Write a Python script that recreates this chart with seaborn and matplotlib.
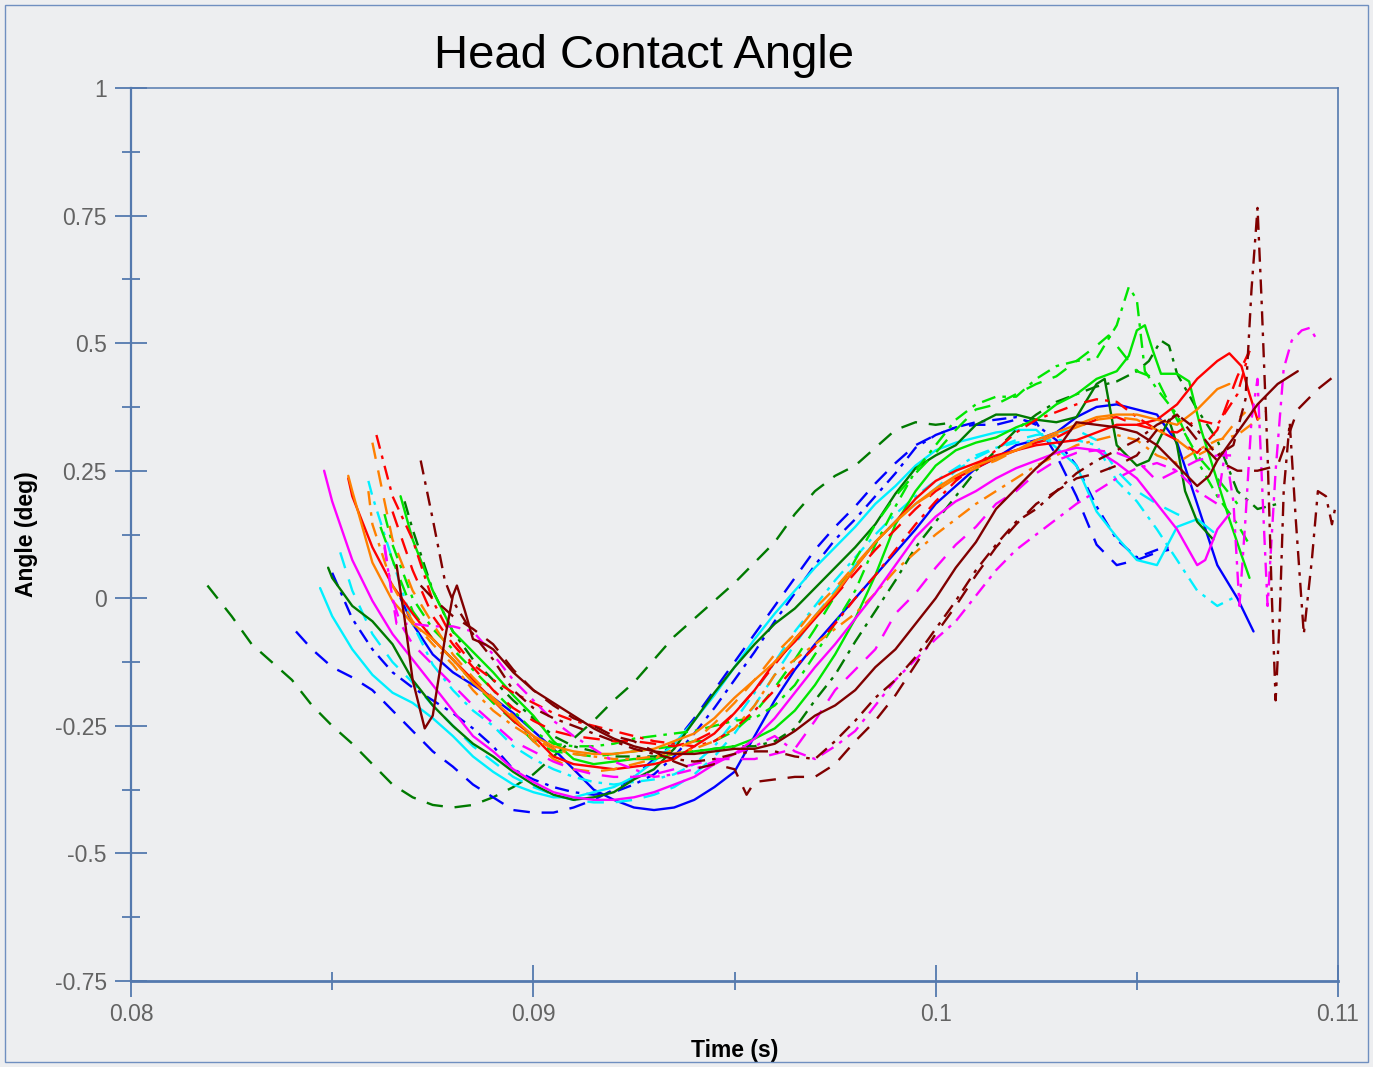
import numpy as np
import seaborn as sns
import matplotlib.pyplot as plt
from matplotlib.ticker import FixedLocator, FuncFormatter
from matplotlib.patches import Rectangle

# time in ms, angle in deg
dkgreen_dashed_t = [81.9, 82.5, 83.0, 83.5, 84.0, 84.5, 85.0, 85.5, 86.0, 86.5, 87.0, 87.5, 88.0, 88.5, 89.0, 89.5, 90.0, 90.5, 91.0, 91.5, 92.0, 92.5, 93.0, 93.5, 94.0, 94.5, 95.0, 95.5, 96.0, 96.5, 97.0, 97.5, 98.0, 98.5, 99.0, 99.5, 100.0, 100.5]
dkgreen_dashed_a = [0.025, -0.035, -0.09, -0.125, -0.16, -0.21, -0.25, -0.285, -0.325, -0.365, -0.39, -0.405, -0.41, -0.405, -0.39, -0.37, -0.345, -0.31, -0.275, -0.24, -0.20, -0.165, -0.12, -0.075, -0.04, -0.005, 0.03, 0.07, 0.11, 0.165, 0.21, 0.24, 0.26, 0.295, 0.33, 0.345, 0.34, 0.345]

blue_dashed_t = [84.1, 84.5, 85.0, 85.5, 86.0, 86.5, 87.0, 87.5, 88.0, 88.5, 89.0, 89.5, 90.0, 90.5, 91.0, 91.5, 92.0, 92.5, 93.0, 93.5, 94.0, 94.5, 95.0, 95.5, 96.0, 96.5, 97.0, 97.5, 98.0, 98.5, 99.0, 99.5, 100.0, 100.5, 101.0, 101.5, 102.0, 102.5, 103.0, 103.5, 104.0, 104.5, 105.0, 105.5, 105.8]
blue_dashed_a = [-0.065, -0.10, -0.135, -0.155, -0.18, -0.22, -0.26, -0.30, -0.33, -0.365, -0.39, -0.415, -0.42, -0.42, -0.41, -0.395, -0.375, -0.35, -0.315, -0.285, -0.235, -0.18, -0.125, -0.07, -0.015, 0.04, 0.095, 0.14, 0.18, 0.225, 0.265, 0.30, 0.32, 0.335, 0.34, 0.34, 0.35, 0.345, 0.28, 0.20, 0.105, 0.065, 0.075, 0.09, 0.095]

blue_dashdot_t = [85.0, 85.5, 86.0, 86.5, 87.0, 87.5, 88.0, 88.5, 89.0, 89.5, 90.0, 90.5, 91.0, 91.5, 92.0, 92.5, 93.0, 93.5, 94.0, 94.5, 95.0, 95.5, 96.0, 96.5, 97.0, 97.5, 98.0, 98.5, 99.0, 99.5, 100.0, 100.5, 101.0, 101.5, 102.0, 102.5, 103.0, 103.5, 104.0, 104.5, 105.0, 105.5, 105.8]
blue_dashdot_a = [0.05, -0.04, -0.10, -0.145, -0.175, -0.20, -0.225, -0.255, -0.29, -0.335, -0.355, -0.37, -0.38, -0.385, -0.38, -0.365, -0.345, -0.31, -0.265, -0.215, -0.16, -0.105, -0.045, 0.01, 0.065, 0.115, 0.155, 0.20, 0.245, 0.295, 0.32, 0.335, 0.345, 0.35, 0.355, 0.34, 0.31, 0.26, 0.18, 0.115, 0.08, 0.095, 0.10]

blue_solid_t = [86.7, 87.0, 87.5, 88.0, 88.5, 89.0, 89.5, 90.0, 90.5, 91.0, 91.5, 92.0, 92.5, 93.0, 93.5, 94.0, 94.5, 95.0, 95.5, 96.0, 96.5, 97.0, 97.5, 98.0, 98.5, 99.0, 99.5, 100.0, 100.5, 101.0, 101.5, 102.0, 102.5, 103.0, 103.5, 104.0, 104.5, 105.0, 105.5, 106.0, 106.5, 107.0, 107.5, 107.9]
blue_solid_a = [0.00, -0.05, -0.11, -0.145, -0.17, -0.195, -0.225, -0.26, -0.295, -0.335, -0.375, -0.395, -0.41, -0.415, -0.41, -0.395, -0.37, -0.34, -0.27, -0.20, -0.14, -0.09, -0.045, 0.00, 0.045, 0.09, 0.135, 0.185, 0.22, 0.255, 0.275, 0.30, 0.31, 0.325, 0.355, 0.375, 0.38, 0.37, 0.36, 0.305, 0.185, 0.065, 0.00, -0.065]

cyan_solid_t = [84.7, 85.0, 85.5, 86.0, 86.5, 87.0, 87.5, 88.0, 88.5, 89.0, 89.5, 90.0, 90.5, 91.0, 91.5, 92.0, 92.5, 93.0, 93.5, 94.0, 94.5, 95.0, 95.5, 96.0, 96.5, 97.0, 97.5, 98.0, 98.5, 99.0, 99.5, 100.0, 100.5, 101.0, 101.5, 102.0, 102.5, 103.0, 103.5, 104.0, 104.5, 105.0, 105.5, 106.0, 106.5, 106.9]
cyan_solid_a = [0.02, -0.035, -0.10, -0.15, -0.185, -0.205, -0.235, -0.27, -0.31, -0.34, -0.365, -0.38, -0.39, -0.39, -0.38, -0.37, -0.35, -0.32, -0.285, -0.24, -0.19, -0.135, -0.08, -0.03, 0.015, 0.06, 0.10, 0.14, 0.185, 0.22, 0.26, 0.29, 0.305, 0.315, 0.325, 0.33, 0.33, 0.295, 0.26, 0.17, 0.12, 0.075, 0.065, 0.14, 0.155, 0.13]

cyan_dashed_t = [85.2, 85.5, 86.0, 86.5, 87.0, 87.5, 88.0, 88.5, 89.0, 89.5, 90.0, 90.5, 91.0, 91.5, 92.0, 92.5, 93.0, 93.5, 94.0, 94.5, 95.0, 95.5, 96.0, 96.5, 97.0, 97.5, 98.0, 98.5, 99.0, 99.5, 100.0, 100.5, 101.0, 101.5, 102.0, 102.5, 103.0, 103.5, 104.0, 104.5, 105.0, 105.5, 106.0, 106.3]
cyan_dashed_a = [0.09, 0.015, -0.07, -0.125, -0.165, -0.21, -0.25, -0.29, -0.32, -0.35, -0.37, -0.385, -0.395, -0.40, -0.40, -0.395, -0.385, -0.37, -0.345, -0.31, -0.265, -0.21, -0.15, -0.09, -0.035, 0.015, 0.065, 0.11, 0.15, 0.185, 0.215, 0.25, 0.275, 0.295, 0.31, 0.32, 0.325, 0.33, 0.31, 0.25, 0.21, 0.185, 0.165, 0.155]

cyan_dashdot_t = [85.9, 86.0, 86.5, 87.0, 87.5, 88.0, 88.5, 89.0, 89.5, 90.0, 90.5, 91.0, 91.5, 92.0, 92.5, 93.0, 93.5, 94.0, 94.5, 95.0, 95.5, 96.0, 96.5, 97.0, 97.5, 98.0, 98.5, 99.0, 99.5, 100.0, 100.5, 101.0, 101.5, 102.0, 102.5, 103.0, 103.5, 104.0, 104.5, 105.0, 105.5, 106.0, 106.5, 107.0, 107.5]
cyan_dashdot_a = [0.23, 0.20, 0.075, -0.05, -0.13, -0.18, -0.22, -0.25, -0.29, -0.315, -0.335, -0.35, -0.36, -0.365, -0.36, -0.355, -0.345, -0.325, -0.29, -0.24, -0.185, -0.125, -0.065, -0.015, 0.035, 0.08, 0.125, 0.165, 0.20, 0.23, 0.255, 0.28, 0.295, 0.305, 0.31, 0.31, 0.31, 0.30, 0.23, 0.19, 0.135, 0.075, 0.015, -0.015, 0.005]

dkgreen_solid_t = [84.9, 85.0, 85.5, 86.0, 86.5, 87.0, 87.5, 88.0, 88.5, 89.0, 89.5, 90.0, 90.5, 91.0, 91.5, 92.0, 92.5, 93.0, 93.5, 94.0, 94.5, 95.0, 95.5, 96.0, 96.5, 97.0, 97.5, 98.0, 98.5, 99.0, 99.5, 100.0, 100.5, 101.0, 101.5, 102.0, 102.5, 103.0, 103.5, 104.0, 104.2, 104.5, 105.0, 105.3, 105.8, 106.0, 106.2, 106.5, 106.9]
dkgreen_solid_a = [0.06, 0.04, -0.015, -0.045, -0.09, -0.16, -0.21, -0.25, -0.285, -0.31, -0.34, -0.365, -0.385, -0.395, -0.39, -0.38, -0.355, -0.335, -0.295, -0.24, -0.185, -0.135, -0.09, -0.05, -0.02, 0.02, 0.06, 0.10, 0.145, 0.205, 0.255, 0.28, 0.30, 0.34, 0.36, 0.36, 0.35, 0.345, 0.355, 0.42, 0.43, 0.30, 0.26, 0.27, 0.35, 0.30, 0.21, 0.15, 0.115]

dkgreen_dashdot_t = [86.8, 87.0, 87.5, 88.0, 88.5, 89.0, 89.5, 90.0, 90.5, 91.0, 91.5, 92.0, 92.5, 93.0, 93.5, 94.0, 94.5, 95.0, 95.5, 96.0, 96.5, 97.0, 97.5, 98.0, 98.5, 99.0, 99.5, 100.0, 100.5, 101.0, 101.5, 102.0, 102.5, 103.0, 103.5, 104.0, 104.5, 105.0, 105.3, 105.6, 105.8, 106.0, 106.5, 107.0, 107.5, 108.0, 108.5]
dkgreen_dashdot_a = [0.19, 0.135, 0.015, -0.065, -0.12, -0.16, -0.20, -0.235, -0.27, -0.29, -0.30, -0.31, -0.31, -0.31, -0.305, -0.30, -0.295, -0.29, -0.29, -0.28, -0.255, -0.20, -0.15, -0.085, -0.025, 0.035, 0.10, 0.15, 0.20, 0.25, 0.29, 0.33, 0.36, 0.385, 0.40, 0.415, 0.425, 0.445, 0.465, 0.505, 0.495, 0.44, 0.37, 0.31, 0.21, 0.175, 0.185]

lime_solid_t = [86.7, 87.0, 87.5, 88.0, 88.5, 89.0, 89.5, 90.0, 90.5, 91.0, 91.5, 92.0, 92.5, 93.0, 93.5, 94.0, 94.5, 95.0, 95.5, 96.0, 96.5, 97.0, 97.5, 98.0, 98.5, 99.0, 99.5, 100.0, 100.5, 101.0, 101.5, 102.0, 102.5, 103.0, 103.5, 104.0, 104.5, 104.8, 105.0, 105.2, 105.4, 105.6, 106.0, 106.3, 106.6, 107.0, 107.3, 107.6, 107.8]
lime_solid_a = [0.20, 0.115, 0.015, -0.065, -0.105, -0.145, -0.19, -0.23, -0.28, -0.315, -0.325, -0.32, -0.315, -0.315, -0.305, -0.30, -0.295, -0.29, -0.275, -0.255, -0.22, -0.17, -0.11, -0.04, 0.045, 0.145, 0.21, 0.26, 0.29, 0.305, 0.315, 0.335, 0.35, 0.38, 0.40, 0.43, 0.445, 0.475, 0.525, 0.535, 0.485, 0.44, 0.44, 0.425, 0.33, 0.23, 0.155, 0.085, 0.04]

lime_dashdot_t = [86.3, 86.5, 87.0, 87.5, 88.0, 88.5, 89.0, 89.5, 90.0, 90.5, 91.0, 91.5, 92.0, 92.5, 93.0, 93.5, 94.0, 94.5, 95.0, 95.5, 96.0, 96.5, 97.0, 97.5, 98.0, 98.5, 99.0, 99.5, 100.0, 100.5, 101.0, 101.5, 102.0, 102.5, 103.0, 103.5, 104.0, 104.5, 104.8, 105.0, 105.2, 105.5, 106.0, 106.5, 107.0, 107.5, 107.8]
lime_dashdot_a = [0.165, 0.105, 0.00, -0.06, -0.10, -0.14, -0.18, -0.22, -0.26, -0.285, -0.29, -0.29, -0.285, -0.275, -0.27, -0.265, -0.26, -0.25, -0.24, -0.235, -0.21, -0.17, -0.11, -0.05, 0.015, 0.105, 0.18, 0.25, 0.30, 0.35, 0.38, 0.395, 0.395, 0.43, 0.455, 0.465, 0.47, 0.535, 0.61, 0.585, 0.445, 0.41, 0.36, 0.27, 0.20, 0.145, 0.105]

lime_dashed_t = [86.2, 86.5, 87.0, 87.5, 88.0, 88.5, 89.0, 89.5, 90.0, 90.5, 91.0, 91.5, 92.0, 92.5, 93.0, 93.5, 94.0, 94.5, 95.0, 95.5, 96.0, 96.5, 97.0, 97.5, 98.0, 98.5, 99.0, 99.5, 100.0, 100.5, 101.0, 101.5, 102.0, 102.5, 103.0, 103.5, 104.0, 104.3, 104.6, 105.0, 105.5, 106.0, 106.5, 107.0, 107.5]
lime_dashed_a = [0.14, 0.075, -0.025, -0.08, -0.12, -0.165, -0.205, -0.24, -0.28, -0.30, -0.305, -0.31, -0.305, -0.30, -0.295, -0.29, -0.28, -0.28, -0.26, -0.225, -0.175, -0.12, -0.06, 0.005, 0.075, 0.145, 0.20, 0.245, 0.285, 0.33, 0.37, 0.38, 0.40, 0.42, 0.435, 0.465, 0.495, 0.515, 0.485, 0.445, 0.43, 0.35, 0.28, 0.235, 0.185]

red_solid_t = [85.4, 85.5, 86.0, 86.5, 87.0, 87.5, 88.0, 88.5, 89.0, 89.5, 90.0, 90.5, 91.0, 91.5, 92.0, 92.5, 93.0, 93.5, 94.0, 94.5, 95.0, 95.5, 96.0, 96.5, 97.0, 97.5, 98.0, 98.5, 99.0, 99.5, 100.0, 100.5, 101.0, 101.5, 102.0, 102.5, 103.0, 103.5, 104.0, 104.5, 105.0, 105.5, 106.0, 106.5, 107.0, 107.3, 107.6, 107.8, 108.0]
red_solid_a = [0.235, 0.20, 0.10, 0.025, -0.03, -0.08, -0.12, -0.16, -0.20, -0.24, -0.27, -0.31, -0.325, -0.33, -0.335, -0.33, -0.325, -0.315, -0.29, -0.265, -0.225, -0.18, -0.125, -0.085, -0.04, 0.005, 0.06, 0.11, 0.15, 0.195, 0.23, 0.25, 0.265, 0.28, 0.29, 0.30, 0.305, 0.31, 0.325, 0.34, 0.34, 0.35, 0.38, 0.43, 0.465, 0.48, 0.455, 0.40, 0.35]

red_dashed_t = [86.5, 87.0, 87.5, 88.0, 88.5, 89.0, 89.5, 90.0, 90.5, 91.0, 91.5, 92.0, 92.5, 93.0, 93.5, 94.0, 94.5, 95.0, 95.5, 96.0, 96.5, 97.0, 97.5, 98.0, 98.5, 99.0, 99.5, 100.0, 100.5, 101.0, 101.5, 102.0, 102.5, 103.0, 103.5, 104.0, 104.5, 105.0, 105.5, 106.0, 106.5, 107.0, 107.5, 107.8]
red_dashed_a = [0.17, 0.055, -0.035, -0.09, -0.135, -0.18, -0.215, -0.24, -0.26, -0.27, -0.275, -0.28, -0.28, -0.285, -0.29, -0.28, -0.26, -0.225, -0.18, -0.13, -0.08, -0.035, 0.005, 0.05, 0.095, 0.135, 0.175, 0.21, 0.235, 0.255, 0.275, 0.29, 0.305, 0.315, 0.335, 0.35, 0.355, 0.34, 0.33, 0.31, 0.285, 0.33, 0.435, 0.485]

red_dashdot_t = [86.1, 86.5, 87.0, 87.5, 88.0, 88.5, 89.0, 89.5, 90.0, 90.5, 91.0, 91.5, 92.0, 92.5, 93.0, 93.5, 94.0, 94.5, 95.0, 95.5, 96.0, 96.5, 97.0, 97.5, 98.0, 98.5, 99.0, 99.5, 100.0, 100.5, 101.0, 101.5, 102.0, 102.5, 103.0, 103.5, 104.0, 104.5, 105.0, 105.5, 106.0, 106.5, 107.0, 107.5, 107.8]
red_dashdot_a = [0.32, 0.20, 0.115, -0.005, -0.08, -0.13, -0.16, -0.185, -0.205, -0.225, -0.24, -0.25, -0.26, -0.27, -0.28, -0.285, -0.29, -0.28, -0.255, -0.22, -0.18, -0.135, -0.095, -0.05, 0.00, 0.045, 0.095, 0.145, 0.19, 0.23, 0.26, 0.29, 0.325, 0.35, 0.365, 0.38, 0.39, 0.385, 0.355, 0.33, 0.325, 0.35, 0.34, 0.40, 0.485]

orange_solid_t = [85.4, 85.5, 86.0, 86.5, 87.0, 87.5, 88.0, 88.5, 89.0, 89.5, 90.0, 90.5, 91.0, 91.5, 92.0, 92.5, 93.0, 93.5, 94.0, 94.5, 95.0, 95.5, 96.0, 96.5, 97.0, 97.5, 98.0, 98.5, 99.0, 99.5, 100.0, 100.5, 101.0, 101.5, 102.0, 102.5, 103.0, 103.5, 104.0, 104.5, 105.0, 105.5, 106.0, 106.5, 107.0, 107.3]
orange_solid_a = [0.24, 0.21, 0.07, -0.005, -0.05, -0.08, -0.12, -0.165, -0.20, -0.235, -0.27, -0.29, -0.30, -0.305, -0.305, -0.30, -0.295, -0.28, -0.265, -0.235, -0.195, -0.16, -0.125, -0.08, -0.035, 0.01, 0.06, 0.11, 0.15, 0.185, 0.215, 0.24, 0.26, 0.275, 0.29, 0.31, 0.325, 0.34, 0.355, 0.36, 0.36, 0.35, 0.34, 0.37, 0.41, 0.42]

orange_dashed_t = [86.0, 86.3, 86.5, 87.0, 87.5, 88.0, 88.5, 89.0, 89.5, 90.0, 90.5, 91.0, 91.5, 92.0, 92.5, 93.0, 93.5, 94.0, 94.5, 95.0, 95.5, 96.0, 96.5, 97.0, 97.5, 98.0, 98.5, 99.0, 99.5, 100.0, 100.5, 101.0, 101.5, 102.0, 102.5, 103.0, 103.5, 104.0, 104.5, 105.0, 105.5, 106.0, 106.5, 107.0, 107.5, 107.7]
orange_dashed_a = [0.305, 0.19, 0.115, 0.015, -0.05, -0.11, -0.155, -0.195, -0.23, -0.28, -0.315, -0.335, -0.34, -0.335, -0.325, -0.315, -0.295, -0.28, -0.245, -0.205, -0.16, -0.11, -0.07, -0.02, 0.02, 0.065, 0.11, 0.15, 0.185, 0.21, 0.235, 0.255, 0.27, 0.29, 0.305, 0.32, 0.335, 0.35, 0.355, 0.35, 0.33, 0.31, 0.28, 0.30, 0.35, 0.365]

orange_dashdot_t = [85.9, 86.0, 86.5, 87.0, 87.5, 88.0, 88.5, 89.0, 89.5, 90.0, 90.5, 91.0, 91.5, 92.0, 92.5, 93.0, 93.5, 94.0, 94.5, 95.0, 95.5, 96.0, 96.5, 97.0, 97.5, 98.0, 98.5, 99.0, 99.5, 100.0, 100.5, 101.0, 101.5, 102.0, 102.5, 103.0, 103.5, 104.0, 104.5, 105.0, 105.5, 106.0, 106.5, 107.0, 107.5, 108.0, 108.2]
orange_dashdot_a = [0.21, 0.145, 0.025, -0.045, -0.09, -0.13, -0.18, -0.22, -0.25, -0.275, -0.295, -0.305, -0.31, -0.315, -0.315, -0.31, -0.305, -0.295, -0.28, -0.255, -0.21, -0.15, -0.12, -0.09, -0.06, -0.03, 0.01, 0.055, 0.09, 0.125, 0.155, 0.185, 0.21, 0.235, 0.26, 0.28, 0.30, 0.31, 0.32, 0.31, 0.28, 0.265, 0.29, 0.31, 0.32, 0.35, 0.365]

magenta_solid_t = [84.8, 85.0, 85.5, 86.0, 86.5, 87.0, 87.5, 88.0, 88.5, 89.0, 89.5, 90.0, 90.5, 91.0, 91.5, 92.0, 92.5, 93.0, 93.5, 94.0, 94.5, 95.0, 95.5, 96.0, 96.5, 97.0, 97.5, 98.0, 98.5, 99.0, 99.5, 100.0, 100.5, 101.0, 101.5, 102.0, 102.5, 103.0, 103.5, 104.0, 104.5, 105.0, 105.5, 106.0, 106.5, 106.7, 107.0, 107.3]
magenta_solid_a = [0.25, 0.19, 0.075, -0.005, -0.07, -0.12, -0.17, -0.22, -0.27, -0.30, -0.335, -0.36, -0.38, -0.39, -0.395, -0.395, -0.39, -0.38, -0.365, -0.35, -0.325, -0.305, -0.275, -0.235, -0.185, -0.135, -0.09, -0.04, 0.01, 0.065, 0.12, 0.16, 0.19, 0.21, 0.235, 0.255, 0.27, 0.285, 0.295, 0.29, 0.265, 0.235, 0.185, 0.135, 0.065, 0.075, 0.135, 0.165]

magenta_dashed_t = [86.3, 86.5, 86.7, 87.0, 87.5, 88.0, 88.5, 89.0, 89.5, 90.0, 90.5, 91.0, 91.5, 92.0, 92.5, 93.0, 93.5, 94.0, 94.5, 95.0, 95.5, 96.0, 96.5, 97.0, 97.5, 98.0, 98.5, 99.0, 99.5, 100.0, 100.5, 101.0, 101.5, 102.0, 102.5, 103.0, 103.5, 104.0, 104.5, 105.0, 105.5, 106.0, 106.5, 107.0, 107.4]
magenta_dashed_a = [0.105, 0.00, -0.05, -0.09, -0.13, -0.17, -0.21, -0.245, -0.28, -0.30, -0.32, -0.335, -0.345, -0.35, -0.35, -0.345, -0.335, -0.325, -0.315, -0.315, -0.315, -0.305, -0.295, -0.24, -0.18, -0.14, -0.10, -0.03, 0.01, 0.06, 0.105, 0.14, 0.185, 0.21, 0.245, 0.27, 0.285, 0.29, 0.285, 0.27, 0.23, 0.25, 0.27, 0.28, 0.28]

magenta_dashdot_t = [86.3, 86.6, 87.0, 87.5, 88.0, 88.5, 89.0, 89.5, 90.0, 90.5, 91.0, 91.5, 92.0, 92.5, 93.0, 93.5, 94.0, 94.5, 95.0, 95.5, 96.0, 96.5, 97.0, 97.5, 98.0, 98.5, 99.0, 99.5, 100.0, 100.5, 101.0, 101.5, 102.0, 102.5, 103.0, 103.5, 104.0, 104.5, 105.0, 105.5, 106.0, 106.5, 107.0, 107.2, 107.4, 107.55, 107.7, 107.85, 108.0, 108.15, 108.25, 108.45, 108.65, 108.85, 109.1, 109.3, 109.45]
magenta_dashdot_a = [0.10, -0.05, -0.05, -0.055, -0.055, -0.065, -0.11, -0.16, -0.20, -0.24, -0.27, -0.295, -0.32, -0.335, -0.35, -0.345, -0.335, -0.32, -0.305, -0.29, -0.27, -0.30, -0.315, -0.29, -0.26, -0.21, -0.16, -0.12, -0.08, -0.045, 0.005, 0.055, 0.095, 0.125, 0.155, 0.185, 0.21, 0.235, 0.255, 0.265, 0.25, 0.21, 0.185, 0.29, 0.19, -0.015, 0.155, 0.35, 0.43, 0.155, -0.015, 0.25, 0.45, 0.505, 0.525, 0.53, 0.51]

maroon_solid_t = [86.6, 86.8, 87.0, 87.3, 87.5, 87.8, 88.0, 88.1, 88.3, 88.5, 88.8, 89.0, 89.5, 90.0, 90.5, 91.0, 91.5, 92.0, 92.5, 93.0, 93.5, 94.0, 94.5, 95.0, 95.5, 96.0, 96.5, 97.0, 97.5, 98.0, 98.5, 99.0, 99.5, 100.0, 100.5, 101.0, 101.5, 102.0, 102.5, 103.0, 103.5, 104.0, 104.5, 105.0, 105.5, 106.0, 106.5, 106.8, 107.0, 107.5, 108.0, 108.5, 109.0]
maroon_solid_a = [0.065, -0.04, -0.16, -0.255, -0.23, -0.08, 0.005, 0.025, -0.025, -0.08, -0.09, -0.10, -0.145, -0.18, -0.205, -0.23, -0.255, -0.275, -0.29, -0.30, -0.305, -0.305, -0.30, -0.295, -0.295, -0.285, -0.26, -0.23, -0.21, -0.18, -0.135, -0.10, -0.05, 0.00, 0.06, 0.11, 0.175, 0.215, 0.255, 0.29, 0.345, 0.34, 0.335, 0.325, 0.30, 0.26, 0.22, 0.24, 0.27, 0.325, 0.38, 0.42, 0.445]

maroon_dashed_t = [87.2, 87.5, 88.0, 88.5, 89.0, 89.5, 90.0, 90.5, 91.0, 91.5, 92.0, 92.5, 93.0, 93.5, 94.0, 94.5, 95.0, 95.3, 95.5, 96.0, 96.5, 97.0, 97.5, 98.0, 98.5, 99.0, 99.5, 100.0, 100.5, 101.0, 101.5, 102.0, 102.5, 103.0, 103.5, 104.0, 104.5, 105.0, 105.5, 106.0, 106.5, 107.0, 107.5, 108.0, 108.5, 109.0, 109.5, 109.9]
maroon_dashed_a = [0.025, 0.00, -0.035, -0.06, -0.09, -0.14, -0.18, -0.21, -0.235, -0.25, -0.27, -0.28, -0.30, -0.32, -0.335, -0.325, -0.335, -0.385, -0.36, -0.355, -0.35, -0.35, -0.325, -0.28, -0.24, -0.19, -0.13, -0.07, -0.015, 0.045, 0.10, 0.145, 0.185, 0.21, 0.235, 0.245, 0.26, 0.28, 0.33, 0.36, 0.31, 0.27, 0.25, 0.25, 0.26, 0.37, 0.41, 0.435]

maroon_dashdot_t = [87.2, 87.5, 87.8, 88.0, 88.5, 89.0, 89.5, 90.0, 90.5, 91.0, 91.5, 92.0, 92.5, 93.0, 93.5, 94.0, 94.5, 95.0, 95.5, 96.0, 96.5, 97.0, 97.5, 98.0, 98.5, 99.0, 99.5, 100.0, 100.5, 101.0, 101.5, 102.0, 102.5, 103.0, 103.5, 104.0, 104.5, 105.0, 105.5, 106.0, 106.5, 107.0, 107.4, 107.7, 107.85, 108.0, 108.1, 108.25, 108.35, 108.45, 108.55, 108.65, 108.8, 108.95, 109.15, 109.35, 109.5, 109.7, 109.85, 109.95]
maroon_dashdot_a = [0.27, 0.155, 0.035, -0.005, -0.07, -0.12, -0.18, -0.215, -0.235, -0.25, -0.265, -0.28, -0.295, -0.305, -0.315, -0.32, -0.315, -0.305, -0.30, -0.30, -0.31, -0.315, -0.28, -0.24, -0.195, -0.16, -0.115, -0.06, -0.005, 0.055, 0.105, 0.15, 0.175, 0.21, 0.245, 0.27, 0.29, 0.31, 0.34, 0.36, 0.33, 0.28, 0.30, 0.39, 0.605, 0.765, 0.585, 0.28, 0.015, -0.20, -0.04, 0.21, 0.345, 0.155, -0.07, 0.075, 0.21, 0.20, 0.145, 0.185]

x_major = [0.08, 0.09, 0.10, 0.11]
x_minor = [0.085, 0.095, 0.105]
y_major = [-0.75, -0.5, -0.25, 0, 0.25, 0.5, 0.75, 1]
y_minor = [-0.625, -0.375, -0.125, 0.125, 0.375, 0.625, 0.875]

# line styles
SOLID = '-'
DASH = (0, (7, 5))
DASHDOT = (0, (6, 3, 1.5, 3))

series = [
    (dkgreen_dashed_t, dkgreen_dashed_a, '#007a00', DASH),
    (blue_dashed_t, blue_dashed_a, '#0000ff', DASH),
    (blue_dashdot_t, blue_dashdot_a, '#0000ff', DASHDOT),
    (blue_solid_t, blue_solid_a, '#0000ff', SOLID),
    (cyan_solid_t, cyan_solid_a, '#00f0ff', SOLID),
    (cyan_dashed_t, cyan_dashed_a, '#00f0ff', DASH),
    (cyan_dashdot_t, cyan_dashdot_a, '#00f0ff', DASHDOT),
    (dkgreen_solid_t, dkgreen_solid_a, '#007a00', SOLID),
    (dkgreen_dashdot_t, dkgreen_dashdot_a, '#007a00', DASHDOT),
    (lime_solid_t, lime_solid_a, '#00e600', SOLID),
    (lime_dashdot_t, lime_dashdot_a, '#00e600', DASHDOT),
    (lime_dashed_t, lime_dashed_a, '#00e600', DASH),
    (red_solid_t, red_solid_a, '#ff0000', SOLID),
    (red_dashed_t, red_dashed_a, '#ff0000', DASH),
    (red_dashdot_t, red_dashdot_a, '#ff0000', DASHDOT),
    (orange_solid_t, orange_solid_a, '#ff8000', SOLID),
    (orange_dashed_t, orange_dashed_a, '#ff8000', DASH),
    (orange_dashdot_t, orange_dashdot_a, '#ff8000', DASHDOT),
    (magenta_solid_t, magenta_solid_a, '#ff00ff', SOLID),
    (magenta_dashed_t, magenta_dashed_a, '#ff00ff', DASH),
    (magenta_dashdot_t, magenta_dashdot_a, '#ff00ff', DASHDOT),
    (maroon_solid_t, maroon_solid_a, '#800000', SOLID),
    (maroon_dashed_t, maroon_dashed_a, '#800000', DASH),
    (maroon_dashdot_t, maroon_dashdot_a, '#800000', DASHDOT),
]

sns.set_style("white")
plt.rcParams['font.family'] = ['Liberation Sans', 'DejaVu Sans']
plt.rcParams['axes.unicode_minus'] = False

BG = '#edeef0'
SPINE = '#5479ae'
W, H = 1373, 1067

fig = plt.figure(figsize=(W / 100, H / 100), dpi=100, facecolor=BG)
ax = fig.add_axes([131 / W, 1 - 981 / H, (1338 - 131) / W, (981 - 88) / H])
ax.set_facecolor(BG)

for t, a, color, ls in series:
    sns.lineplot(x=np.array(t) / 1000.0, y=a, ax=ax, color=color, linestyle=ls,
                 linewidth=1.7, estimator=None, errorbar=None, sort=False,
                 solid_joinstyle='round', dash_joinstyle='round')

ax.set_xlim(0.08, 0.11)
ax.set_ylim(-0.75, 1)

ax.xaxis.set_major_locator(FixedLocator(x_major))
ax.xaxis.set_minor_locator(FixedLocator(x_minor))
ax.yaxis.set_major_locator(FixedLocator(y_major))
ax.yaxis.set_minor_locator(FixedLocator(y_minor))
fmt = FuncFormatter(lambda v, p: f"{v:g}")
ax.xaxis.set_major_formatter(fmt)
ax.yaxis.set_major_formatter(fmt)

ax.tick_params(which='major', direction='inout', length=23, width=1.3, color=SPINE,
               labelsize=16.5, labelcolor='#636363', left=True, bottom=True)
ax.tick_params(which='minor', direction='inout', length=12.5, width=1.3, color=SPINE,
               left=True, bottom=True)
ax.tick_params(axis='y', which='major', pad=6)
ax.tick_params(axis='x', which='major', pad=4)

for side, lw in [('left', 1.6), ('bottom', 2.0), ('top', 1.1), ('right', 1.2)]:
    ax.spines[side].set_visible(True)
    ax.spines[side].set_color(SPINE)
    ax.spines[side].set_linewidth(lw)

ax.set_xlabel('Time (s)', fontsize=16.5, fontweight='bold', color='black', labelpad=10)
ax.set_ylabel('Angle (deg)', fontsize=16.5, fontweight='bold', color='black', labelpad=12)

fig.text(644 / W, 1 - 68 / H, 'Head Contact Angle', fontsize=34, color='black',
         ha='center', va='baseline')

fig.patches.append(Rectangle((5 / W, 5 / H), 1 - 10 / W, 1 - 10 / H, transform=fig.transFigure,
                             fill=False, edgecolor='#6f8fc0', linewidth=1.0))

fig.savefig('out.png', dpi=100, facecolor=BG)
